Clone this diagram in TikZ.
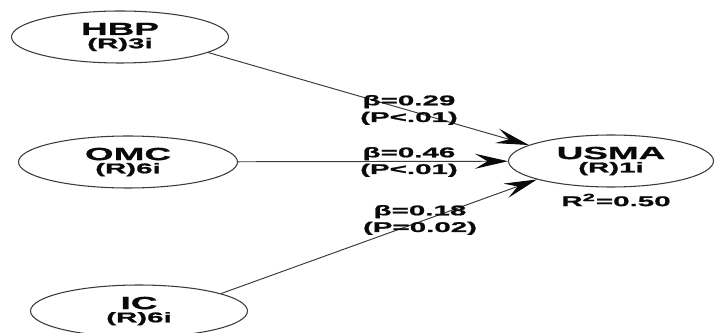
\documentclass[tikz,border=0pt]{standalone}
\usepackage{fontspec}
\setmainfont{Liberation Sans}
\newfontfamily\widefont[FakeStretch=2.1, FakeBold=1.2]{Liberation Sans}
\usepackage{tikz}
\usetikzlibrary{arrows.meta, positioning, shapes.geometric}
\usepackage{xcolor}
\definecolor{LineGray}{HTML}{3A3A3A}
\definecolor{InkBlack}{HTML}{0A0A0A}

\tikzset{
  construct/.style={ellipse, draw=LineGray, line width=0.6pt, fill=white,
    minimum width=4.34cm, minimum height=1.04cm, inner sep=0pt,
    align=center, text=InkBlack, font=\widefont\bfseries\fontsize{10}{7.5}\selectfont},
  pathlabel/.style={align=center, text=InkBlack, inner sep=0pt,
    font=\widefont\bfseries\fontsize{8}{9.5}\selectfont},
  pathline/.style={draw=LineGray, line width=0.55pt,
    -{Stealth[length=0.66cm, width=0.3cm, inset=0.25cm, color=InkBlack]}}
}

\begin{document}
\begin{tikzpicture}
\useasboundingbox (0,0) rectangle (14.3,6.64);

% ── Constructs ────────────────────────────────────────────────────────────────
\node[construct] (hbp) at (2.40, 5.90) {HBP\\{\fontsize{8}{7.5}\selectfont (R)3i}};
\node[construct, minimum width=4.38cm] (omc) at (2.56, 3.40) {OMC\\{\fontsize{8}{7.5}\selectfont (R)6i}};
\node[construct] (ic) at (2.78, 0.42) {IC\\{\fontsize{8}{7.5}\selectfont (R)6i}};
\node[construct, minimum width=4.10cm] (usma) at (12.22, 3.42) {USMA\\{\fontsize{8}{7.5}\selectfont (R)1i}};
\node[pathlabel] (rsq) at (12.32, 2.64) {R\textsuperscript{2}=0.50};

% ── Paths ─────────────────────────────────────────────────────────────────────
\draw[pathline] (hbp.-10) -- (usma.169);
\draw[pathline] (omc) -- (usma);
\draw[pathline] (ic.12) -- (usma.-166);

% ── Coefficients ──────────────────────────────────────────────────────────────
\node[pathlabel] (b1) at (8.18, 4.44) {β=0.29\\(P<.01)};
\node[pathlabel] (b2) at (8.18, 3.40) {β=0.46\\(P<.01)};
\node[pathlabel] (b3) at (8.40, 2.24) {β=0.18\\(P=0.02)};

\end{tikzpicture}
\end{document}
